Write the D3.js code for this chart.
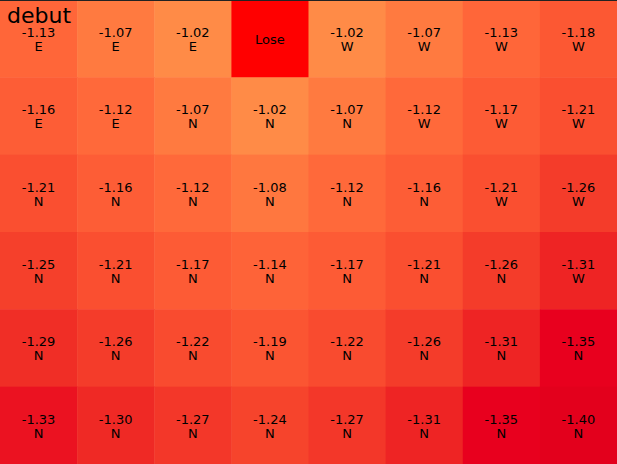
<!DOCTYPE html>
<html>
<head>
<meta charset="utf-8">
<script src="https://cdn.jsdelivr.net/npm/d3@7"></script>
<style>
  body { margin: 0; background: #fff; }
  svg { display: block; font-family: "DejaVu Sans", sans-serif; }
</style>
</head>
<body>
<div id="chart"></div>
<script>
// Grid of values (row by row), null = the "Lose" cell
const values = [
  [-1.13, -1.07, -1.02, null, -1.02, -1.07, -1.13, -1.18],
  [-1.16, -1.12, -1.07, -1.02, -1.07, -1.12, -1.17, -1.21],
  [-1.21, -1.16, -1.12, -1.08, -1.12, -1.16, -1.21, -1.26],
  [-1.25, -1.21, -1.17, -1.14, -1.17, -1.21, -1.26, -1.31],
  [-1.29, -1.26, -1.22, -1.19, -1.22, -1.26, -1.31, -1.35],
  [-1.33, -1.30, -1.27, -1.24, -1.27, -1.31, -1.35, -1.40]
];
const moves = [
  ['E', 'E', 'E', null, 'W', 'W', 'W', 'W'],
  ['E', 'E', 'N', 'N', 'N', 'W', 'W', 'W'],
  ['N', 'N', 'N', 'N', 'N', 'N', 'W', 'W'],
  ['N', 'N', 'N', 'N', 'N', 'N', 'N', 'W'],
  ['N', 'N', 'N', 'N', 'N', 'N', 'N', 'N'],
  ['N', 'N', 'N', 'N', 'N', 'N', 'N', 'N']
];
const title = 'debut';
const loseLabel = 'Lose';

const width = 617, height = 464;
const nRows = values.length, nCols = values[0].length;

const svg = d3.select('#chart').append('svg')
    .attr('width', width)
    .attr('height', height);

const x = d3.scaleBand().domain(d3.range(nCols)).range([0, width]);
const y = d3.scaleBand().domain(d3.range(nRows)).range([0, height]);

// colour stops
const color = d3.scaleLinear()
    .domain([-1.40, -1.35, -1.31, -1.26, -1.21, -1.13, -1.07, -1.02])
    .range(['#e3001c', '#e8001e', '#ee2424', '#f43c2a', '#fa4f30', '#ff6639', '#ff7a40', '#ff8b47'])
    .clamp(true);

const cells = [];
values.forEach((row, r) => row.forEach((v, c) => {
    cells.push({r, c, v, m: moves[r][c]});
}));

const g = svg.selectAll('g.cell')
    .data(cells)
    .join('g')
    .attr('class', 'cell')
    .attr('transform', d => `translate(${x(d.c)},${y(d.r)})`);

g.append('rect')
    .attr('width', x.bandwidth() + 0.5)
    .attr('height', y.bandwidth() + 0.5)
    .attr('fill', d => d.v === null ? '#ff0000' : color(d.v));

const cx = x.bandwidth() / 2, cy = y.bandwidth() / 2;

g.filter(d => d.v !== null).append('text')
    .attr('x', cx)
    .attr('y', cy - 1.5)
    .attr('text-anchor', 'middle')
    .attr('font-size', 13)
    .text(d => d.v.toFixed(2));

g.filter(d => d.v !== null).append('text')
    .attr('x', cx)
    .attr('y', cy + 12.5)
    .attr('text-anchor', 'middle')
    .attr('font-size', 13)
    .text(d => d.m);

g.filter(d => d.v === null).append('text')
    .attr('x', cx)
    .attr('y', cy + 5)
    .attr('text-anchor', 'middle')
    .attr('font-size', 13)
    .text(loseLabel);

// thin frame line at top
svg.append('line')
    .attr('x1', 0).attr('x2', width)
    .attr('y1', 0.5).attr('y2', 0.5)
    .attr('stroke', '#222')
    .attr('stroke-width', 1);

svg.append('text')
    .attr('x', 7)
    .attr('y', 23)
    .attr('font-size', 22)
    .text(title);
</script>
</body>
</html>
